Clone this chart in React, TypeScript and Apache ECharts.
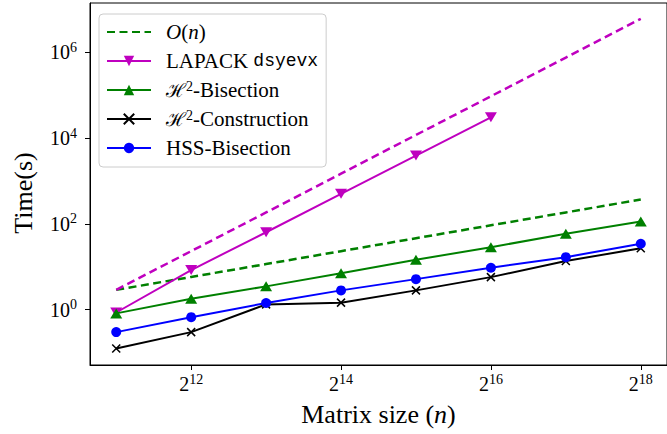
import React, { useEffect, useRef } from "react";
import * as echarts from "echarts";

// Matrix sizes n = 2^11 ... 2^18
const sizes = [2048, 4096, 8192, 16384, 32768, 65536, 131072, 262144];
const lapackSizes = [2048, 4096, 8192, 16384, 32768, 65536];

// Measured run times in seconds
const lapackTimes = [0.86, 8.4, 64, 505, 3930, 30600];
const h2BisectionTimes = [0.82, 1.8, 3.5, 7.1, 14.6, 28.7, 58.9, 114];
const h2ConstructionTimes = [0.124, 0.3, 1.33, 1.46, 2.82, 5.75, 13.6, 27.2];
const hssBisectionTimes = [0.3, 0.67, 1.43, 2.82, 5.16, 9.5, 16.8, 34.5];

// Reference slopes: O(n) and O(n^3)
const linearRef = [2.9, 5.8, 11.6, 23.2, 46.4, 92.8, 185.6, 371.2];
const cubicRef = [2.9, 23.2, 185.6, 1484.8, 11878, 95027, 760218, 6081741];

// Tick exponents shown on the axes
const xTickExponents = [12, 14, 16, 18];
const yTickExponents = [0, 2, 4, 6];

const SERIF = "Liberation Serif";
const MONO = "Liberation Mono";

const legendLabels: Record<string, string> = {
  "O(n)": "{it|O}{rm|(}{it|n}{rm|)}",
  "LAPACK dsyevx": "{rm|LAPACK }{tt|dsyevx}",
  "H2-Bisection": "{cal|\u210B}{sup|2}{rm|-Bisection}",
  "H2-Construction": "{cal|\u210B}{sup|2}{rm|-Construction}",
  "HSS-Bisection": "{rm|HSS-Bisection}",
};

const pairs = (xs: number[], ys: number[]) => xs.map((x, i) => [x, ys[i]]);

export default function App() {
  const ref = useRef<HTMLDivElement>(null);

  useEffect(() => {
    if (!ref.current) return;
    const chart = echarts.init(ref.current, null, { renderer: "svg" });

    const tickRich = {
      b: { fontFamily: SERIF, fontSize: 20, lineHeight: 24, color: "#000" },
      s: { fontFamily: SERIF, fontSize: 14, lineHeight: 13, verticalAlign: "top", color: "#000" },
    };

    const green = "#008000";
    const magenta = "#bf00bf";
    const blue = "#0000ff";
    const black = "#000000";

    chart.setOption({
      animation: false,
      backgroundColor: "#ffffff",
      textStyle: { fontFamily: SERIF },
      grid: {
        left: 88,
        top: 3,
        right: -2.4,
        bottom: 69,
        show: true,
        borderColor: "#000",
        borderWidth: 1,
        backgroundColor: "transparent",
      },
      xAxis: {
        type: "log",
        logBase: 2,
        min: Math.pow(2, 10.65),
        max: Math.pow(2, 18.35),
        name: "{rm|Matrix size (}{it|n}{rm|)}",
        nameLocation: "middle",
        nameGap: 34,
        nameTextStyle: {
          fontFamily: SERIF,
          fontSize: 26,
          lineHeight: 30,
          color: "#000",
          rich: {
            rm: { fontFamily: SERIF, fontSize: 26, lineHeight: 30, color: "#000" },
            it: { fontFamily: SERIF, fontStyle: "italic", fontSize: 26, lineHeight: 30, color: "#000" },
          },
        },
        axisLine: { lineStyle: { color: "#000", width: 1 } },
        axisTick: {
          inside: false,
          length: 5,
          lineStyle: { color: "#000", width: 1 },
          customValues: xTickExponents.map((e) => Math.pow(2, e)),
        },
        axisLabel: {
          margin: 7,
          customValues: xTickExponents.map((e) => Math.pow(2, e)),
          formatter: (v: number) => `{b|2}{s|${Math.round(Math.log2(v))}}`,
          rich: tickRich,
        },
        splitLine: { show: false },
        minorTick: { show: false },
      },
      yAxis: {
        type: "log",
        logBase: 10,
        min: Math.pow(10, -1.29),
        max: Math.pow(10, 7.153),
        name: "{t|Time(s)}",
        nameLocation: "middle",
        nameRotate: 90,
        nameGap: 52,
        nameTextStyle: {
          fontFamily: SERIF,
          fontSize: 26,
          lineHeight: 30,
          color: "#000",
          rich: {
            t: {
              fontFamily: SERIF,
              fontSize: 26,
              lineHeight: 30,
              color: "#000",
              padding: [0, 18, 0, 0],
            },
          },
        },
        axisLine: { lineStyle: { color: "#000", width: 1 } },
        axisTick: {
          inside: false,
          length: 5,
          lineStyle: { color: "#000", width: 1 },
          customValues: yTickExponents.map((e) => Math.pow(10, e)),
        },
        axisLabel: {
          margin: 13,
          customValues: yTickExponents.map((e) => Math.pow(10, e)),
          formatter: (v: number) => `{b|10}{s|${Math.round(Math.log10(v))}}`,
          rich: tickRich,
        },
        splitLine: { show: false },
        minorTick: { show: false },
      },
      legend: {
        orient: "vertical",
        left: 99,
        top: 14,
        padding: [7, 8, 8, 7],
        itemWidth: 44,
        itemHeight: 13,
        itemGap: 7,
        backgroundColor: "rgba(255,255,255,0.8)",
        borderColor: "#cccccc",
        borderWidth: 1,
        borderRadius: 4,
        data: [
          { name: "O(n)", itemStyle: { opacity: 0 } },
          { name: "LAPACK dsyevx" },
          { name: "H2-Bisection" },
          { name: "H2-Construction" },
          { name: "HSS-Bisection" },
        ],
        formatter: (name: string) => legendLabels[name] ?? name,
        textStyle: {
          fontFamily: SERIF,
          fontSize: 21,
          lineHeight: 22,
          color: "#000",
          padding: [0, 0, 0, 10],
          rich: {
            rm: { fontFamily: SERIF, fontSize: 21, lineHeight: 22, color: "#000" },
            it: { fontFamily: SERIF, fontStyle: "italic", fontSize: 21, lineHeight: 22, color: "#000" },
            tt: { fontFamily: MONO, fontSize: 18, lineHeight: 22, color: "#000" },
            cal: { fontFamily: "DejaVu Serif", fontSize: 19, lineHeight: 22, color: "#000" },
            sup: { fontFamily: SERIF, fontSize: 14, lineHeight: 12, verticalAlign: "top", color: "#000" },
          },
        },
      },
      series: [
        {
          name: "O(n)",
          type: "line",
          data: pairs(sizes, linearRef),
          symbol: "none",
          lineStyle: { color: green, width: 2.5, type: [8, 4.5] },
          itemStyle: { color: green },
          z: 2,
        },
        {
          name: "LAPACK dsyevx",
          type: "line",
          data: pairs(lapackSizes, lapackTimes),
          symbol: "path://M0,0L10,0L5,8.66Z",
          symbolSize: [12, 10],
          lineStyle: { color: magenta, width: 2 },
          itemStyle: { color: magenta },
          z: 3,
        },
        {
          name: "O(n^3)",
          type: "line",
          data: pairs(sizes, cubicRef),
          symbol: "none",
          lineStyle: { color: magenta, width: 2.5, type: [8, 4.5] },
          itemStyle: { color: magenta },
          z: 4,
        },
        {
          name: "H2-Bisection",
          type: "line",
          data: pairs(sizes, h2BisectionTimes),
          symbol: "triangle",
          symbolSize: [12, 10],
          lineStyle: { color: green, width: 2 },
          itemStyle: { color: green },
          z: 5,
        },
        {
          name: "H2-Construction",
          type: "line",
          data: pairs(sizes, h2ConstructionTimes),
          symbol: "path://M0,0L10,10M10,0L0,10",
          symbolSize: 8,
          lineStyle: { color: black, width: 2 },
          itemStyle: { color: black, borderColor: black, borderWidth: 1.5 },
          z: 6,
        },
        {
          name: "HSS-Bisection",
          type: "line",
          data: pairs(sizes, hssBisectionTimes),
          symbol: "circle",
          symbolSize: 10,
          lineStyle: { color: blue, width: 2 },
          itemStyle: { color: blue },
          z: 7,
        },
      ],
    });

    return () => chart.dispose();
  }, []);

  return (
    <div
      ref={ref}
      style={{ position: "absolute", left: 0, top: 0, width: 667, height: 434 }}
    />
  );
}
